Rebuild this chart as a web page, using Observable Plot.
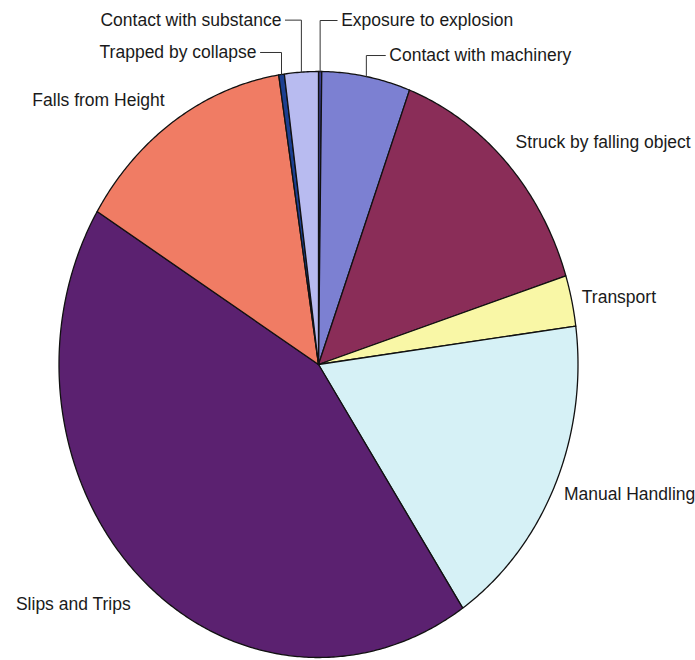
<!DOCTYPE html>
<html><head><meta charset="utf-8">
<script src="https://cdn.jsdelivr.net/npm/d3@7"></script>
<script src="https://cdn.jsdelivr.net/npm/@observablehq/plot@0.6"></script>
<style>body{margin:0;background:#fff}</style>
</head><body><div id="chart"></div>
<script>
// Data (clockwise from 12 o'clock)
const categories = ["Exposure to explosion","Contact with machinery","Struck by falling object","Transport","Manual Handling","Slips and Trips","Falls from Height","Trapped by collapse","Contact with substance"];
const values = [0.2, 5.5, 14.4, 2.8, 17.7, 43.1, 13.8, 0.35, 2.1];
const colors = ["#3d3f8f","#7c80d2","#8a2d58","#f9f7a6","#d6f1f6","#5b2170","#f07c64","#1c3f90","#b8bbf0"];

// Layout (pixels) for labels
const RX = 259.5, RY = 293;
const labelLayout = {
  "Exposure to explosion":   {leader:true, dy:-51, hx:17, anchor:"start"},
  "Contact with machinery":  {leader:true, dy:-21, hx:19, anchor:"start"},
  "Struck by falling object":{dx:9, dy:-20, anchor:"start"},
  "Transport":               {dx:10, dy:-3, anchor:"start"},
  "Manual Handling":         {dx:9, dy:9, anchor:"start"},
  "Slips and Trips":         {dx:-8, dy:29, anchor:"end"},
  "Falls from Height":       {dx:-10, dy:-20, anchor:"end"},
  "Trapped by collapse":     {leader:true, dy:-22, hx:-21, anchor:"end"},
  "Contact with substance":  {leader:true, dy:-52, hx:-16, anchor:"end"}
};

const arcs = d3.pie().sort(null).value(d => d)(values);
const slicePts = [];
arcs.forEach((a, i) => {
  const cat = categories[i];
  slicePts.push({cat, x:0, y:0});
  const n = Math.max(2, Math.ceil((a.endAngle - a.startAngle) / (Math.PI/360)));
  for (let k = 0; k <= n; k++) {
    const t = a.startAngle + (a.endAngle - a.startAngle) * k / n;
    slicePts.push({cat, x:Math.sin(t), y:Math.cos(t)});
  }
});

const leaderPts = [], textStart = [], textEnd = [];
arcs.forEach((a, i) => {
  const cat = categories[i];
  const L = labelLayout[cat];
  const m = (a.startAngle + a.endAngle) / 2;
  const px = Math.sin(m), py = Math.cos(m);
  let tx, ty;
  if (L.leader) {
    const y1 = py - L.dy / RY;
    const x2 = px + L.hx / RX;
    leaderPts.push({cat, x:px, y:py}, {cat, x:px, y:y1}, {cat, x:x2, y:y1});
    tx = x2 + Math.sign(L.hx) * 4 / RX;
    ty = y1;
  } else {
    tx = px + L.dx / RX;
    ty = py - L.dy / RY;
  }
  (L.anchor === "start" ? textStart : textEnd).push({cat, x:tx, y:ty});
});

const textOpts = {x:"x", y:"y", text:"cat", fill:"#1a1a1a", fontSize:17.5, lineAnchor:"middle", fontFamily:"Liberation Sans, Arial, sans-serif"};

const chart = Plot.plot({
  width: 695, height: 660,
  marginTop: 0, marginBottom: 0, marginLeft: 0, marginRight: 0,
  x: {domain:[-1,1], range:[318 - RX, 318 + RX], axis:null},
  y: {domain:[-1,1], range:[364 + RY, 364 - RY], axis:null},
  color: {domain: categories, range: colors},
  style: {fontFamily:"Liberation Sans, Arial, sans-serif", background:"#fff"},
  marks: [
    Plot.line(slicePts, {x:"x", y:"y", z:"cat", fill:"cat", stroke:"#111", strokeWidth:1.3, curve:"linear-closed"}),
    Plot.line(leaderPts, {x:"x", y:"y", z:"cat", stroke:"#333", strokeWidth:1}),
    Plot.text(textStart, {...textOpts, textAnchor:"start"}),
    Plot.text(textEnd, {...textOpts, textAnchor:"end"})
  ]
});
document.getElementById("chart").append(chart);
</script>
</body></html>
